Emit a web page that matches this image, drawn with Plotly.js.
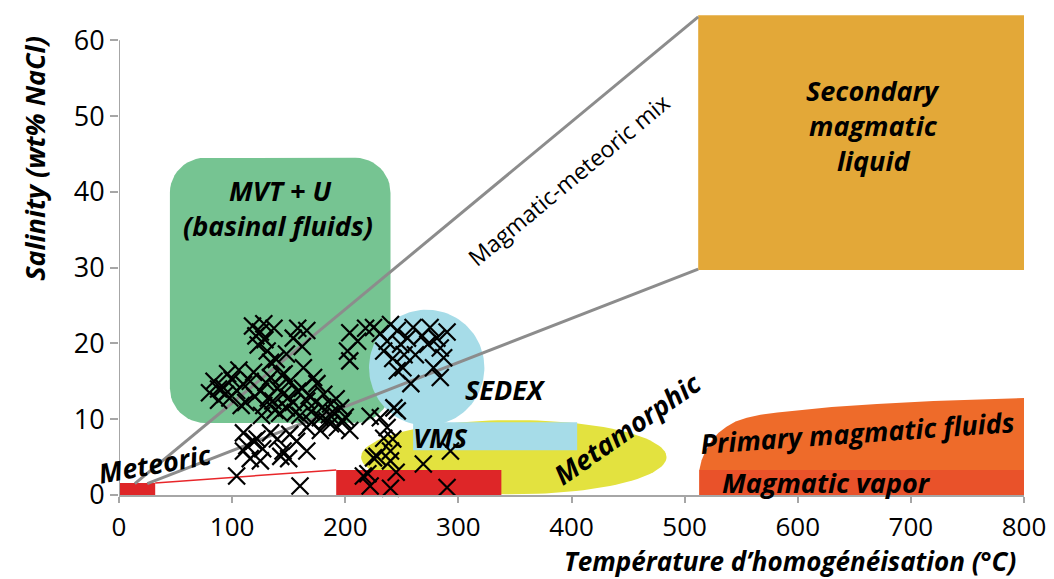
<!DOCTYPE html>
<html><head><meta charset="utf-8">
<script src="https://cdn.plot.ly/plotly-3.0.1.min.js"></script>
<style>html,body{margin:0;padding:0;background:#fff}#chart{width:1054px;height:579px}</style>
</head><body><div id="chart"></div>
<script>
// ---- data: fluid inclusion measurements ----
const temperature = [80,84,88,92,96,98,100,104,108,110,112,106,
  118,121,125,123,129,131,134,128,154,158,166,162,137,
  116,120,125,128,134,136,140,142,145,148,151,154,158,160,163,166,170,175,178,181,184,187,190,193,198,204,196,146,172,130,
  104,110,113,116,119,122,127,125,134,140,143,145,151,157,166,166,178,187,160,110,150,
  202,204,204,211,218,225,231,234,237,240,246,246,249,251,255,258,260,262,268,273,275,278,281,284,284,287,290,252,242,
  222,231,243,246,237,234,242,240,228,225,240,220,216,222,240,269,293,290,245,
  126,132,138,144,150,156,162,168,174,180,186,192,119,139,148,170,200,88,94];
const salinity = [13.5,15,12.5,14.2,16,12.8,15.2,13.8,11.8,14.6,12.2,16.5,
  22.3,21,21.5,19.8,20.5,19,17.5,22.6,20.7,22,21.7,19.6,22,
  15,13,13.7,11.8,15.5,12.4,14.1,10.8,13.3,11.5,15,12.2,13.7,10.5,16.8,12.4,11,14.7,10.2,13.3,9.8,12,10.8,8.9,9.8,8.5,11.5,16,15.5,14.8,
  2.5,8.2,6.5,4.8,7.1,7.4,6.1,4.5,8.2,7.4,5.1,5.8,8,7.1,5.8,8.9,8.5,9.4,1.2,5.8,4.8,
  19,21.4,17.7,20.3,22,22.1,21.3,19,20.3,22.5,21.7,16.4,19.9,16.8,20.7,14.7,22.1,18.5,21,19.9,22.1,16.8,20.7,19.4,15.5,18.1,21.5,18.5,18,
  10.4,10.2,11.5,11.1,8.9,7.5,7.4,5.8,5.1,4.9,4.5,2.8,2.5,1.2,0.9,4.1,5.8,1,3,
  10.5,12.8,11.2,15.8,12.9,10.9,14.1,13.1,12.3,11.6,10.6,12.7,16.2,17.9,18.6,9.6,10.3,14,13.3];
const xTicks = [0,100,200,300,400,500,600,700,800];
const yTicks = [0,10,20,30,40,50,60];

// ---- fluid-type fields ----
const mvtT = [45, 240], mvtS = [9.5, 44.5];
const sedexCenter = [272, 16.8], sedexRadius = [51, 7.65];
const vmsT = [260, 405], vmsS = [5.9, 9.6];
const metaCenter = [349, 5.0], metaRadius = [135, 4.9];
const meteoricT = [0, 32], meteoricS = [0, 1.6];
const meteoricTrendT = [32, 192], meteoricTrendS = [1.6, 3.3];
const redT = [192, 338], redS = [0, 3.3];
const secondaryT = [512, 800], secondaryS = [29.7, 63.3];
const primaryTopT = [513, 515, 519, 524, 530, 537, 545, 555, 567, 582, 600, 630, 670, 720, 800];
const primaryTopS = [3.3, 4.6, 6.0, 7.2, 8.2, 9.0, 9.7, 10.2, 10.6, 10.9, 11.2, 11.6, 12.0, 12.4, 12.8];
const vaporT = [513, 800], vaporS = [0, 3.3];
const mixUpperT = [14, 512], mixUpperS = [1.5, 63.1];
const mixLowerT = [25, 512], mixLowerS = [1.5, 29.8];

const FONT = '"Open Sans", sans-serif';

function rectPts(xr, yr) {
  return {x: [xr[0], xr[1], xr[1], xr[0], xr[0]], y: [yr[0], yr[0], yr[1], yr[1], yr[0]]};
}
function ellipsePts(c, r) {
  const x = [], y = [];
  for (let i = 0; i <= 120; i++) { const a = 2 * Math.PI * i / 120; x.push(c[0] + r[0] * Math.cos(a)); y.push(c[1] + r[1] * Math.sin(a)); }
  return {x, y};
}
function roundRectPts(xr, yr, rx, ry) {
  const x = [], y = [];
  const corners = [[xr[1] - rx, yr[1] - ry, 0], [xr[0] + rx, yr[1] - ry, 90], [xr[0] + rx, yr[0] + ry, 180], [xr[1] - rx, yr[0] + ry, 270]];
  corners.forEach(c => {
    for (let i = 0; i <= 12; i++) { const a = (c[2] + 90 * i / 12) * Math.PI / 180; x.push(c[0] + rx * Math.cos(a)); y.push(c[1] + ry * Math.sin(a)); }
  });
  x.push(x[0]); y.push(y[0]);
  return {x, y};
}
function fillTrace(p, color) {
  return {type: 'scatter', mode: 'lines', x: p.x, y: p.y, fill: 'toself', fillcolor: color, line: {width: 0, color: color}, hoverinfo: 'skip', showlegend: false};
}

const primaryX = [primaryTopT[0]].concat(primaryTopT, [primaryTopT[primaryTopT.length - 1], primaryTopT[0]]);
const primaryY = [0].concat(primaryTopS, [0, 0]);

const traces = [
  fillTrace(rectPts(secondaryT, secondaryS), '#E3A838'),
  fillTrace({x: primaryX, y: primaryY}, '#EE6B2A'),
  fillTrace(rectPts(vaporT, vaporS), '#E9522A'),
  fillTrace(roundRectPts(mvtT, mvtS, 31, 4.6), '#76C492'),
  fillTrace(ellipsePts(metaCenter, metaRadius), '#E3E23F'),
  fillTrace(ellipsePts(sedexCenter, sedexRadius), '#A6DCE8'),
  fillTrace(rectPts(vmsT, vmsS), '#A6DCE8'),
  fillTrace(rectPts(meteoricT, meteoricS), '#DE2628'),
  fillTrace(rectPts(redT, redS), '#DE2628'),
  {type: 'scatter', mode: 'lines', x: meteoricTrendT, y: meteoricTrendS, line: {color: '#E8262A', width: 1.5}, hoverinfo: 'skip', showlegend: false},
  {type: 'scatter', mode: 'lines', x: mixUpperT, y: mixUpperS, line: {color: '#8C8C8C', width: 3}, hoverinfo: 'skip', showlegend: false},
  {type: 'scatter', mode: 'lines', x: mixLowerT, y: mixLowerS, line: {color: '#8C8C8C', width: 3}, hoverinfo: 'skip', showlegend: false},
  {type: 'scatter', mode: 'lines', x: [0, 0], y: [0, 60], line: {color: '#A6A6A6', width: 2}, hoverinfo: 'skip', showlegend: false, cliponaxis: false},
  {type: 'scatter', mode: 'markers', x: temperature, y: salinity, cliponaxis: false,
   marker: {symbol: 'x-thin', size: 17, color: '#000', line: {color: '#000', width: 2.2}}, hoverinfo: 'skip', showlegend: false}
];

function lab(text, x, y, size, angle) {
  return {text, x, y, xref: 'x', yref: 'y', showarrow: false, textangle: angle || 0,
    xanchor: 'center', yanchor: 'middle',
    font: {family: FONT, size: size, color: '#000', weight: 'bold', style: 'italic'}};
}

const LBL = 27;
const annotations = [
  lab('MVT + U', 142.4, 40.2, LBL),
  lab('(basinal fluids)', 140.6, 35.6, LBL),
  lab('Secondary', 666.7, 53.4, LBL),
  lab('magmatic', 666.7, 48.8, LBL),
  lab('liquid', 666.7, 44.2, LBL),
  {text: 'Magmatic-meteoric mix', x: 397, y: 41.6, xref: 'x', yref: 'y', showarrow: false, textangle: -39.7,
   xanchor: 'center', yanchor: 'middle', font: {family: FONT, size: 23, color: '#000'}},
  lab('SEDEX', 342, 13.9, LBL),
  lab('VMS', 284, 7.65, LBL),
  lab('Metamorphic', 449, 8.8, LBL, -35),
  lab('Primary magmatic fluids', 652.5, 8.3, LBL, -4),
  lab('Magmatic vapor', 625, 1.6, LBL),
  lab('Meteoric', 31.8, 4.1, LBL, -10),
  {text: 'Salinity (wt% NaCl)', xref: 'paper', yref: 'paper', x: -0.093, y: 0.695, showarrow: false, textangle: -90,
   xanchor: 'center', yanchor: 'middle', font: {family: FONT, size: 27, color: '#000', weight: 'bold', style: 'italic'}},
  {text: 'Température d’homogénéisation (°C)', xref: 'paper', yref: 'paper', x: 0.741, y: -0.137, showarrow: false,
   xanchor: 'center', yanchor: 'middle', borderpad: 0, font: {family: FONT, size: 26, color: '#000', weight: 'bold', style: 'italic'}}
];

const layout = {
  width: 1054, height: 579,
  margin: {l: 119, r: 30, t: 10, b: 84},
  paper_bgcolor: '#fff', plot_bgcolor: '#fff',
  showlegend: false, hovermode: false,
  xaxis: {range: [0, 800], tickvals: xTicks, ticktext: xTicks.map(String), showgrid: false, zeroline: false,
    showline: true, linecolor: '#A6A6A6', linewidth: 2, ticks: 'outside', ticklen: 6, tickcolor: '#A6A6A6', tickwidth: 2,
    ticklabelstandoff: 2, tickfont: {family: FONT, size: 26, color: '#000'}},
  yaxis: {range: [0, 64], tickvals: yTicks, ticktext: yTicks.map(String), showgrid: false, zeroline: false,
    showline: false, ticks: 'outside', ticklen: 8, tickcolor: '#A6A6A6', tickwidth: 2,
    ticklabelstandoff: 0, tickfont: {family: FONT, size: 27, color: '#000'}},
  annotations
};

Plotly.newPlot('chart', traces, layout, {displayModeBar: false, staticPlot: true});
</script></body></html>
